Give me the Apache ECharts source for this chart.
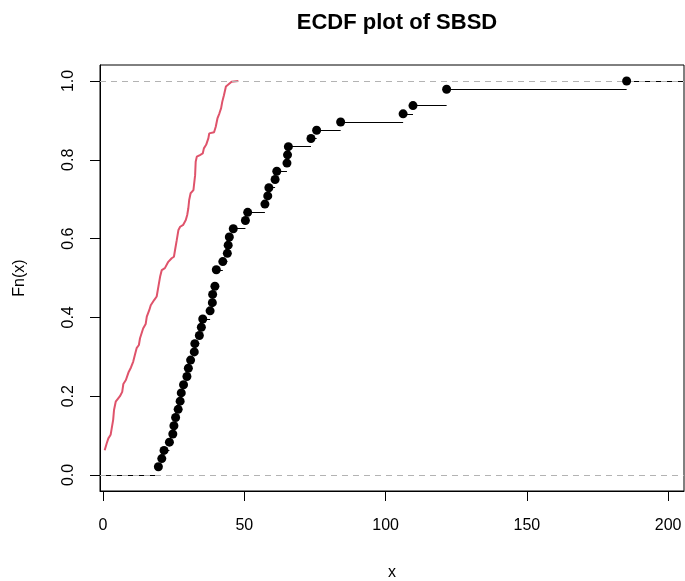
<!DOCTYPE html>
<html>
<head>
<meta charset="utf-8">
<script src="https://cdn.jsdelivr.net/npm/echarts@6/dist/echarts.min.js"></script>
<style>
  html, body { margin: 0; padding: 0; background: #fff; }
  #chart { width: 685px; height: 581px; }
</style>
</head>
<body>
<div id="chart"></div>
<script>
// SBSD sample (sorted), drawn as an empirical CDF with points
const sbsd = [
  19.6, 20.8, 21.6, 23.5, 24.7, 25.1, 25.7, 26.6, 27.3, 27.7,
  28.5, 29.7, 30.2, 31.0, 32.3, 32.5, 34.1, 34.8, 35.3, 37.9,
  38.7, 38.8, 39.6, 40.1, 40.1, 42.4, 44.0, 44.3, 44.7, 46.1,
  50.4, 51.2, 57.3, 58.3, 58.7, 60.9, 61.5, 65.1, 65.3, 65.6,
  73.6, 75.6, 84.1, 106.2, 109.7, 121.6, 121.6, 185.3
];

// Reference ECDF curve (red), traced vertices
const refX = [
  0.6, 1.3, 1.9, 2.7, 3.1, 3.6, 3.9, 4.5, 6.0, 6.8,
  7.2, 8.1, 9.0, 9.9, 10.7, 11.3, 11.9, 12.7, 13.1, 14.2,
  15.1, 15.5, 16.4, 16.9, 18.1, 19.0, 19.6, 20.2, 20.8, 21.9,
  23.1, 24.3, 25.1, 25.5, 26.1, 26.7, 27.3, 28.4, 29.3, 29.8,
  30.2, 30.5, 31.0, 32.0, 32.2, 32.6, 32.8, 33.2, 34.3, 35.3,
  35.7, 36.5, 37.3, 37.6, 39.3, 39.9, 40.5, 41.2, 41.8, 42.2,
  42.8, 43.5, 44.0, 45.5, 47.9
];
const refY = [
  0.063, 0.080, 0.093, 0.102, 0.119, 0.140, 0.165, 0.186, 0.200, 0.211,
  0.231, 0.241, 0.260, 0.273, 0.288, 0.305, 0.322, 0.330, 0.347, 0.372,
  0.383, 0.402, 0.419, 0.431, 0.444, 0.453, 0.478, 0.503, 0.520, 0.525,
  0.541, 0.550, 0.554, 0.571, 0.596, 0.622, 0.630, 0.635, 0.647, 0.660,
  0.677, 0.698, 0.715, 0.723, 0.736, 0.761, 0.795, 0.808, 0.812, 0.816,
  0.829, 0.838, 0.855, 0.867, 0.870, 0.884, 0.905, 0.918, 0.931, 0.947,
  0.964, 0.986, 0.990, 0.998, 1.000
];

const xTicks = [0, 50, 100, 150, 200];
const yTicks = [0, 0.2, 0.4, 0.6, 0.8, 1.0];

const X_MIN = -1.06, X_MAX = 205.6;
const Y_MIN = -0.0406, Y_MAX = 1.0406;

// Build ECDF jump points (unique values) and horizontal segments
const n = sbsd.length;
const jumps = [];
sbsd.forEach((v, i) => {
  const F = (i + 1) / n;
  if (jumps.length && jumps[jumps.length - 1][0] === v) {
    jumps[jumps.length - 1][1] = F;
  } else {
    jumps.push([v, F]);
  }
});
const segments = [{ coords: [[X_MIN, 0], [jumps[0][0], 0]] }];
jumps.forEach((p, i) => {
  const xEnd = i + 1 < jumps.length ? jumps[i + 1][0] : X_MAX;
  segments.push({ coords: [[p[0], p[1]], [xEnd, p[1]]] });
});

const font = 'Liberation Sans, Arial, sans-serif';
const chart = echarts.init(document.getElementById('chart'), null, { renderer: 'canvas' });

chart.setOption({
  animation: false,
  backgroundColor: '#fff',
  title: {
    text: 'ECDF plot of SBSD',
    left: 392,
    top: 7,
    textAlign: 'center',
    textStyle: { fontFamily: font, fontSize: 22, fontWeight: 'bold', color: '#000' }
  },
  grid: {
    left: 100, right: 1, top: 65, bottom: 90,
    containLabel: false,
    outerBoundsMode: 'none',
    show: true, borderColor: '#000', borderWidth: 1, backgroundColor: 'transparent'
  },
  xAxis: {
    type: 'value',
    min: X_MIN, max: X_MAX,
    name: 'x',
    nameLocation: 'middle',
    nameGap: 74,
    nameTextStyle: { fontFamily: font, fontSize: 16, color: '#000' },
    axisLine: { show: true, onZero: false, lineStyle: { color: '#000', width: 1 } },
    axisTick: { show: true, length: 10, customValues: xTicks, lineStyle: { color: '#000' } },
    axisLabel: { customValues: xTicks, margin: 27, fontFamily: font, fontSize: 16, color: '#000' },
    splitLine: { show: false }
  },
  yAxis: {
    type: 'value',
    min: Y_MIN, max: Y_MAX,
    name: 'Fn(x)',
    nameLocation: 'middle',
    nameRotate: 90,
    nameGap: 72,
    nameTextStyle: { fontFamily: font, fontSize: 16, color: '#000' },
    axisLine: { show: true, onZero: false, lineStyle: { color: '#000', width: 1 } },
    axisTick: { show: true, length: 10, customValues: yTicks, lineStyle: { color: '#000' } },
    axisLabel: {
      customValues: yTicks, rotate: 90, margin: 23,
      fontFamily: font, fontSize: 16, color: '#000',
      formatter: v => v.toFixed(1)
    },
    splitLine: { show: false }
  },
  series: [
    {
      // dashed reference lines at 0 and 1
      type: 'line',
      data: [],
      silent: true,
      markLine: {
        silent: true,
        symbol: 'none',
        label: { show: false },
        lineStyle: { color: '#B3B3B3', type: [6, 5], width: 1 },
        data: [{ yAxis: 0 }, { yAxis: 1 }]
      }
    },
    {
      type: 'lines',
      coordinateSystem: 'cartesian2d',
      silent: true,
      lineStyle: { color: '#000', width: 1.2, opacity: 1 },
      data: segments
    },
    {
      type: 'scatter',
      symbol: 'circle',
      symbolSize: 9,
      itemStyle: { color: '#000', opacity: 1 },
      data: jumps,
      z: 5
    },
    {
      type: 'line',
      showSymbol: false,
      lineStyle: { color: '#DF536B', width: 2 },
      data: refX.map((x, i) => [x, refY[i]]),
      z: 4
    }
  ]
});
</script>
</body>
</html>
